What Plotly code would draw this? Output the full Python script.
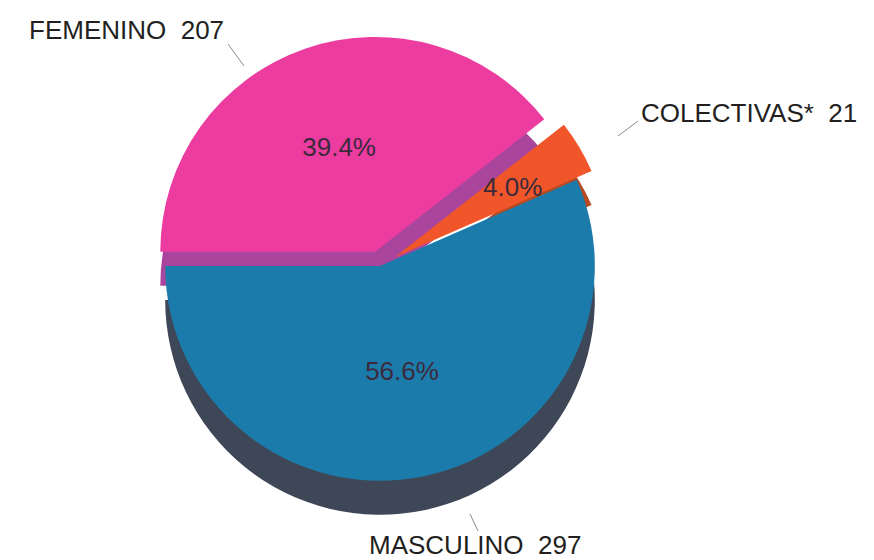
import math
import plotly.graph_objects as go

# Data (clockwise from 9 o'clock)
categories = ["FEMENINO", "COLECTIVAS*", "MASCULINO"]
values = [207, 21, 297]

top_colors = ["#EC3C9F", "#F0562A", "#1B7CAB"]
side_colors = ["#A9459C", "#B84A22", "#3E4757"]
pulls = [0.07, 0.08, 0]

W, H = 874, 560
cx, cy = 372, 258       # pixel centre of top face
half = 232               # half-size of pie domain in px
depth = 34               # 3-D thickness in px
FONT = "Liberation Sans, Arial"


def dom(dy=0):
    return dict(x=[(cx - half) / W, (cx + half) / W],
                y=[1 - (cy + dy + half) / H, 1 - (cy + dy - half) / H])


fig = go.Figure()

# side (depth) layer
fig.add_trace(go.Pie(
    labels=categories, values=values, sort=False, direction="clockwise",
    rotation=270, pull=pulls, domain=dom(depth), textinfo="none",
    hoverinfo="skip", showlegend=False,
    marker=dict(colors=side_colors, line=dict(width=0)),
))

# top face
fig.add_trace(go.Pie(
    labels=categories, values=values, sort=False, direction="clockwise",
    rotation=270, pull=pulls, domain=dom(0),
    texttemplate="%{percent:.1%}",
    textposition=["inside", "none", "inside"],
    insidetextorientation="horizontal",
    textfont=dict(family=FONT, size=26, color="#3B2A3C"),
    showlegend=False,
    marker=dict(colors=top_colors, line=dict(width=0)),
))

# percentage of the small slice, placed near its outer part
total = sum(values)
r = half / (1 + max(pulls))
start = 180.0
for cat, val in zip(categories, values):
    span = 360.0 * val / total
    if cat == "COLECTIVAS*":
        mid = math.radians(start - span / 2)
        px = cx + 0.72 * r * math.cos(mid)
        py = cy - 0.72 * r * math.sin(mid)
        fig.add_annotation(x=px / W, y=1 - py / H, xref="paper", yref="paper",
                           text=f"{100 * val / total:.1f}%", showarrow=False,
                           xanchor="center", yanchor="middle",
                           font=dict(family=FONT, size=26, color="#3B2A3C"))
    start -= span

# outside labels with leader lines
label_pos = {
    "FEMENINO": dict(x=118, y=22, ax_px=236, ay_px=58, lx=220, ly=36),
    "COLECTIVAS*": dict(x=741, y=105, ax_px=610, ay_px=128, lx=630, ly=113),
    "MASCULINO": dict(x=467, y=537, ax_px=462, ay_px=506, lx=470, ly=523),
}
for cat, val in zip(categories, values):
    p = label_pos[cat]
    fig.add_annotation(
        x=p["x"] / W, y=1 - p["y"] / H, xref="paper", yref="paper",
        text=f"{cat}  {val}", showarrow=False,
        xanchor="center", yanchor="middle",
        font=dict(family=FONT, size=26, color="#231F20"),
    )
    fig.add_shape(type="line", xref="paper", yref="paper",
                  x0=p["lx"] / W, y0=1 - p["ly"] / H,
                  x1=p["ax_px"] / W, y1=1 - p["ay_px"] / H,
                  line=dict(color="#8A8A8A", width=1))

fig.update_layout(
    width=W, height=H, margin=dict(l=0, r=0, t=0, b=0),
    paper_bgcolor="white", plot_bgcolor="white",
)

fig.write_html("out.html")
